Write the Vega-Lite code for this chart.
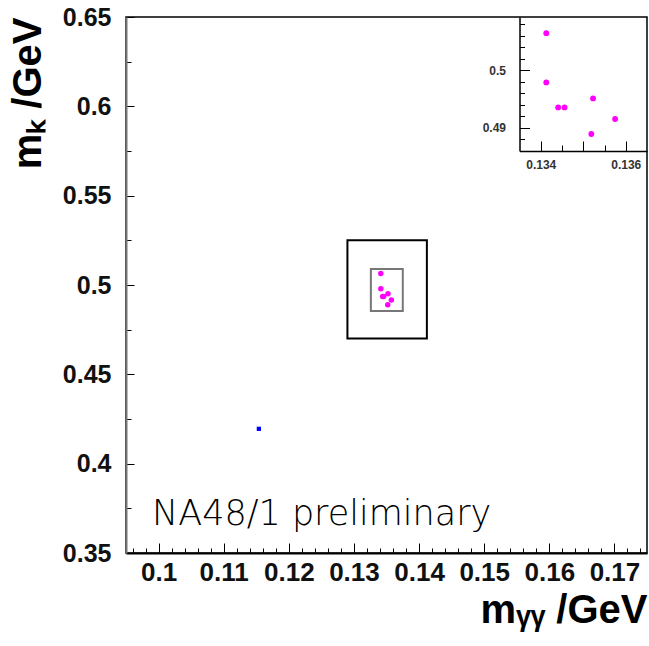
{
  "$schema": "https://vega.github.io/schema/vega-lite/v6.json",
  "width": 521,
  "height": 536,
  "autosize": {"type": "none"},
  "padding": {"left": 126, "top": 17, "right": 2, "bottom": 93},
  "background": "white",
  "config": {
    "view": {"stroke": "#000", "strokeWidth": 1.5},
    "axis": {"grid": false, "labelFont": "Liberation Sans", "labelFontWeight": "bold", "labelColor": "#111", "titleFont": "Liberation Sans", "titleFontWeight": "bold", "titleColor": "#000", "labelOverlap": false, "labelFlush": false, "tickColor": "#000", "domainColor": "#000"}
  },
  "datasets": {
    "events": [
      {"m_gg": 0.13413, "m_K": 0.50649, "sel": "signal"},
      {"m_gg": 0.13413, "m_K": 0.49792, "sel": "signal"},
      {"m_gg": 0.13441, "m_K": 0.49358, "sel": "signal"},
      {"m_gg": 0.13456, "m_K": 0.49358, "sel": "signal"},
      {"m_gg": 0.13523, "m_K": 0.49514, "sel": "signal"},
      {"m_gg": 0.13575, "m_K": 0.49156, "sel": "signal"},
      {"m_gg": 0.13519, "m_K": 0.48896, "sel": "signal"},
      {"m_gg": 0.1154, "m_K": 0.4195, "sel": "outside"}
    ],
    "boxes": [
      {"box": "outer", "m_gg": 0.129, "m_gg_hi": 0.1412, "m_K": 0.47, "m_K_hi": 0.525},
      {"box": "inner", "m_gg": 0.1326, "m_gg_hi": 0.1375, "m_K": 0.4855, "m_K_hi": 0.509}
    ],
    "notes": [
      {"m_gg": 0.099, "m_K": 0.3657, "text": "NA48/1 preliminary"}
    ]
  },
  "layer": [
    {
      "encoding": {
        "x": {
          "field": "m_gg", "type": "quantitative",
          "scale": {"domain": [0.095, 0.175], "nice": false, "zero": false},
          "axis": {
            "title": "mᵧᵧ /GeV", "titleFontSize": 40, "titleAnchor": "end", "titlePadding": 0,
            "values": [0.096, 0.098, 0.1, 0.102, 0.104, 0.106, 0.108, 0.11, 0.112, 0.114, 0.116, 0.118, 0.12, 0.122, 0.124, 0.126, 0.128, 0.13, 0.132, 0.134, 0.136, 0.138, 0.14, 0.142, 0.144, 0.146, 0.148, 0.15, 0.152, 0.154, 0.156, 0.158, 0.16, 0.162, 0.164, 0.166, 0.168, 0.17, 0.172, 0.174],
            "labelExpr": "abs(datum.value*100 - round(datum.value*100)) < 1e-6 ? format(datum.value, '~g') : ''",
            "labelFontSize": 26, "labelPadding": 16,
            "tickSize": {"condition": {"test": "abs(datum.value*100 - round(datum.value*100)) < 1e-6", "value": -10}, "value": -5},
            "domainWidth": 2
          }
        },
        "y": {
          "field": "m_K", "type": "quantitative",
          "scale": {"domain": [0.35, 0.65], "nice": false, "zero": false},
          "axis": {
            "title": "mₖ /GeV", "titleFontSize": 40, "titleAnchor": "end", "titlePadding": 14,
            "values": [0.35, 0.375, 0.4, 0.425, 0.45, 0.475, 0.5, 0.525, 0.55, 0.575, 0.6, 0.625, 0.65],
            "labelExpr": "abs(datum.value*20 - round(datum.value*20)) < 1e-6 ? format(datum.value, '~g') : ''",
            "labelFontSize": 25, "labelPadding": 23,
            "tickSize": {"condition": {"test": "abs(datum.value*20 - round(datum.value*20)) < 1e-6", "value": -8}, "value": -5},
            "domainColor": "#777", "domainWidth": 2
          }
        }
      },
      "layer": [
        {
          "data": {"name": "boxes"},
          "mark": {"type": "rect", "fill": null, "strokeWidth": 2},
          "encoding": {
            "x2": {"field": "m_gg_hi"},
            "y2": {"field": "m_K_hi"},
            "stroke": {"field": "box", "type": "nominal", "scale": {"domain": ["outer", "inner"], "range": ["#000000", "#777777"]}, "legend": null}
          }
        },
        {
          "data": {"name": "events"},
          "mark": {"type": "point", "filled": true, "opacity": 1},
          "encoding": {
            "color": {"field": "sel", "type": "nominal", "scale": {"domain": ["signal", "outside"], "range": ["#ff00ff", "#0000ff"]}, "legend": null},
            "shape": {"field": "sel", "type": "nominal", "scale": {"domain": ["signal", "outside"], "range": ["circle", "square"]}, "legend": null},
            "size": {"field": "sel", "type": "nominal", "scale": {"domain": ["signal", "outside"], "range": [30, 18]}, "legend": null}
          }
        },
        {
          "data": {"name": "notes"},
          "mark": {"type": "text", "align": "left", "baseline": "alphabetic", "font": "DejaVu Sans", "fontWeight": 300, "fontSize": 35, "color": "#000"},
          "encoding": {"text": {"field": "text"}}
        }
      ]
    },
    {
      "data": {"name": "events"},
      "transform": [{"filter": "datum.sel == 'signal'"}],
      "mark": {"type": "circle", "color": "#ff00ff", "opacity": 1, "size": 34},
      "encoding": {
        "x": {
          "field": "m_gg", "type": "quantitative",
          "scale": {"domain": [0.1335, 0.1365], "range": [393.5, 521], "nice": false, "zero": false},
          "axis": {
            "title": null, "orient": "bottom", "offset": -402,
            "values": [0.134, 0.1345, 0.135, 0.1355, 0.136],
            "labelExpr": "abs(datum.value - 0.134) < 1e-7 || abs(datum.value - 0.136) < 1e-7 ? format(datum.value, '.3f') : ''",
            "labelFontSize": 12, "labelColor": "#333", "labelPadding": 18,
            "tickSize": {"condition": {"test": "abs(datum.value*1000 - round(datum.value*1000)) < 1e-6", "value": -10}, "value": -6},
            "domainWidth": 1.5
          }
        },
        "y": {
          "field": "m_K", "type": "quantitative",
          "scale": {"domain": [0.486, 0.5093], "range": [134, 0], "nice": false, "zero": false},
          "axis": {
            "title": null, "orient": "left", "offset": -393.5,
            "values": [0.488, 0.49, 0.492, 0.494, 0.496, 0.498, 0.5, 0.502, 0.504, 0.506, 0.508],
            "labelExpr": "abs(datum.value*100 - round(datum.value*100)) < 1e-6 ? format(datum.value, '~g') : ''",
            "labelFontSize": 12, "labelColor": "#333", "labelPadding": 24,
            "tickSize": {"condition": {"test": "abs(datum.value*100 - round(datum.value*100)) < 1e-6", "value": -10}, "value": -5},
            "domainWidth": 1.5
          }
        }
      }
    }
  ],
  "resolve": {
    "scale": {"x": "independent", "y": "independent"},
    "axis": {"x": "independent", "y": "independent"}
  }
}
